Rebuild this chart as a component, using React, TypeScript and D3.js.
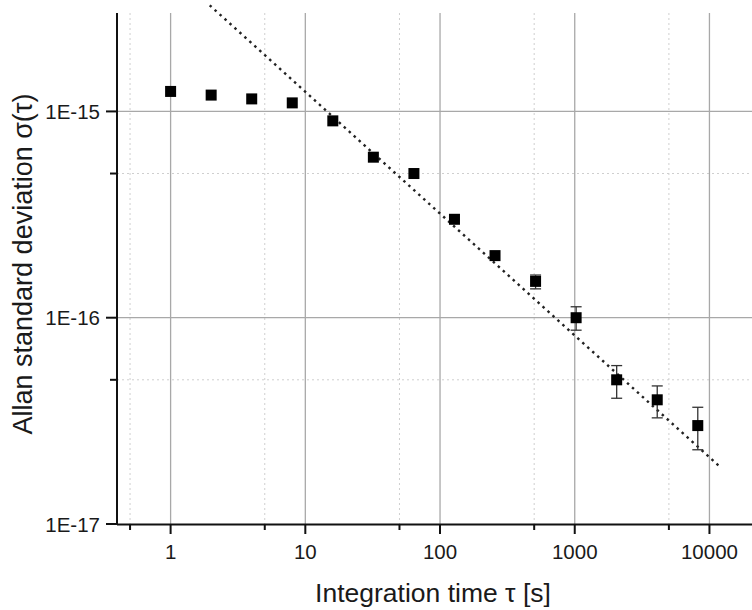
import React from 'react'
import * as d3 from 'd3'

// averaging time tau [s]
const tau = [1, 2, 4, 8, 16, 32, 64, 128, 256, 512, 1024, 2048, 4096, 8192]
// Allan deviation
const sigma = [
  1.25e-15, 1.2e-15, 1.15e-15, 1.1e-15, 0.9e-15, 6.0e-16, 5.0e-16,
  3.0e-16, 2.0e-16, 1.5e-16, 1.0e-16, 5.0e-17, 4.0e-17, 3.0e-17,
]
// error bars (upper / lower), null where hidden by marker
const sigmaHi = [null, null, null, null, null, null, null, null, null, 1.61e-16, 1.13e-16, 5.86e-17, 4.67e-17, 3.68e-17]
const sigmaLo = [null, null, null, null, null, null, null, null, null, 1.38e-16, 8.7e-17, 4.07e-17, 3.27e-17, 2.29e-17]

// fitted slope line (end points)
const fitTau = [1.95, 11900]
const fitSigma = [3.27e-15, 1.9e-17]

const xMajor = [1, 10, 100, 1000, 10000]
const xMinor = [0.5, 5, 50, 500, 5000]
const yMajor = [1e-15, 1e-16, 1e-17]
const yMinor = [5e-16, 5e-17]
const yLabels = ['1E-15', '1E-16', '1E-17']

const W = 752
const H = 610
const left = 117
const right = 750
const top = 13
const bottom = 524

const font = '"Liberation Sans", Arial, sans-serif'

export default function App() {
  const x = d3.scaleLog().domain([0.4, 20000]).range([left, right])
  const y = d3.scaleLog().domain([1e-17, 3e-15]).range([bottom, top])

  const fitLine = d3.line<number>()
    .x((d, i) => x(fitTau[i]))
    .y((d) => y(d))

  const ms = 11

  return (
    <svg width={W} height={H} style={{ position: 'absolute', left: 0, top: 0, background: '#fff' }}>
      {/* minor grid */}
      {xMinor.map((t) => (
        <line key={'gx' + t} x1={x(t)} x2={x(t)} y1={top} y2={bottom}
          stroke="#cfcfcf" strokeWidth={1} strokeDasharray="2,3" />
      ))}
      {yMinor.map((t) => (
        <line key={'gy' + t} x1={left} x2={W} y1={y(t)} y2={y(t)}
          stroke="#cfcfcf" strokeWidth={1} strokeDasharray="2,3" />
      ))}
      {/* major grid */}
      {xMajor.map((t) => (
        <line key={'Gx' + t} x1={x(t)} x2={x(t)} y1={top} y2={bottom}
          stroke="#a8a8a8" strokeWidth={1.3} />
      ))}
      {yMajor.slice(0, 2).map((t) => (
        <line key={'Gy' + t} x1={left} x2={W} y1={y(t)} y2={y(t)}
          stroke="#a8a8a8" strokeWidth={1.3} />
      ))}

      {/* axes */}
      <line x1={left} x2={left} y1={top} y2={bottom + 1} stroke="#111" strokeWidth={2} />
      <line x1={left} x2={W} y1={bottom + 0.5} y2={bottom + 0.5} stroke="#111" strokeWidth={2} />

      {/* x ticks */}
      {xMajor.map((t) => (
        <g key={'tx' + t}>
          <line x1={x(t)} x2={x(t)} y1={bottom} y2={bottom + 10} stroke="#111" strokeWidth={2} />
          <text x={x(t)} y={559} textAnchor="middle" fontFamily={font} fontSize={20.5} fill="#1a1a1a">
            {t}
          </text>
        </g>
      ))}
      {xMinor.map((t) => (
        <line key={'mx' + t} x1={x(t)} x2={x(t)} y1={bottom} y2={bottom + 6} stroke="#111" strokeWidth={2} />
      ))}

      {/* y ticks */}
      {yMajor.map((t, i) => (
        <g key={'ty' + t}>
          <line x1={left - 11} x2={left} y1={y(t)} y2={y(t)} stroke="#111" strokeWidth={2} />
          <text x={left - 17} y={y(t) + 7.5} textAnchor="end" fontFamily={font} fontSize={20.5} fill="#1a1a1a">
            {yLabels[i]}
          </text>
        </g>
      ))}
      {yMinor.map((t) => (
        <line key={'my' + t} x1={left - 7} x2={left} y1={y(t)} y2={y(t)} stroke="#111" strokeWidth={2} />
      ))}

      {/* fit line */}
      <path d={fitLine(fitSigma) || ''} fill="none" stroke="#222" strokeWidth={2.4}
        strokeDasharray="2.5,4.2" />

      {/* error bars */}
      {tau.map((t, i) => {
        const hi = sigmaHi[i]
        const lo = sigmaLo[i]
        if (hi == null || lo == null) return null
        const cx = x(t)
        return (
          <g key={'e' + t} stroke="#333" strokeWidth={1.3}>
            <line x1={cx} x2={cx} y1={y(hi)} y2={y(lo)} />
            <line x1={cx - 5.5} x2={cx + 5.5} y1={y(hi)} y2={y(hi)} />
            <line x1={cx - 5.5} x2={cx + 5.5} y1={y(lo)} y2={y(lo)} />
          </g>
        )
      })}

      {/* markers */}
      {tau.map((t, i) => (
        <rect key={'p' + t} x={x(t) - ms / 2} y={y(sigma[i]) - ms / 2} width={ms} height={ms} fill="#000" />
      ))}

      {/* axis titles */}
      <text x={433} y={602} textAnchor="middle" fontFamily={font} fontSize={26.5} fill="#1a1a1a">
        Integration time τ [s]
      </text>
      <text transform="translate(32, 264) rotate(-90)" textAnchor="middle"
        fontFamily={font} fontSize={27} fill="#1a1a1a">
        Allan standard deviation σ(τ)
      </text>
    </svg>
  )
}
